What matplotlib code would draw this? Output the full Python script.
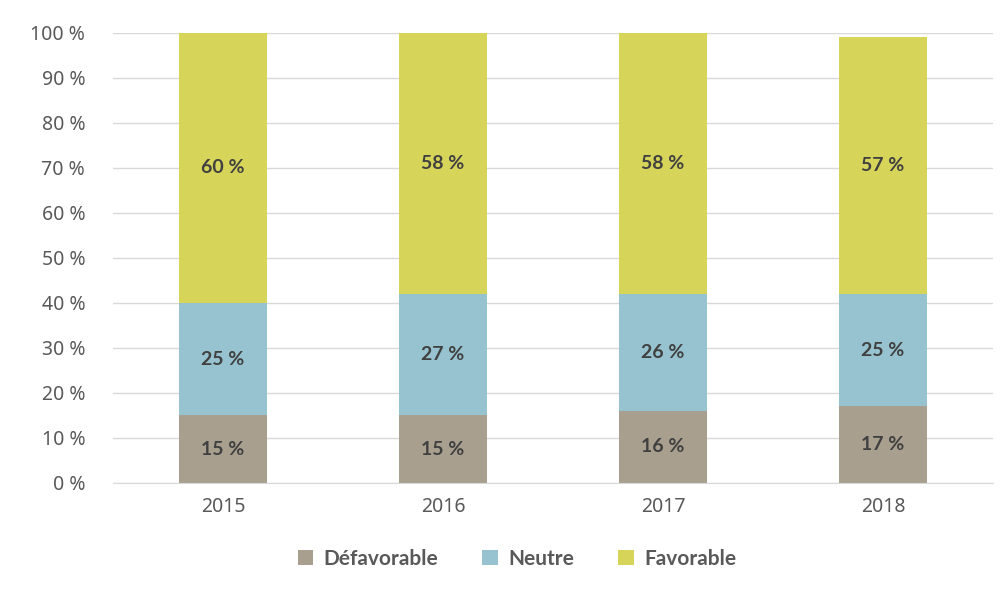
import matplotlib
matplotlib.use("Agg")
import matplotlib.pyplot as plt
import numpy as np

plt.rcParams['font.family'] = ['Noto Sans', 'DejaVu Sans']
BOLD = ['Lato', 'DejaVu Sans']

years = ["2015", "2016", "2017", "2018"]
defavorable = [15, 15, 16, 17]
neutre = [25, 27, 26, 25]
favorable = [60, 58, 58, 57]

series = [("Défavorable", defavorable, "#A89F8E"),
          ("Neutre", neutre, "#96C3CF"),
          ("Favorable", favorable, "#D7D45A")]

fig = plt.figure(figsize=(10, 5.89), dpi=100)
ax = fig.add_axes([0.113, 0.18, 0.88, 0.764])

x = np.arange(len(years))
bottom = np.zeros(len(years))
for name, vals, color in series:
    vals = np.array(vals, dtype=float)
    ax.bar(x, vals, 0.4, bottom=bottom, color=color, label=name, zorder=2)
    for xi, b, v in zip(x, bottom, vals):
        ax.text(xi, b + v / 2, f"{int(v)} %", ha="center", va="center",
                fontsize=14, fontweight="bold", family=BOLD,
                color="#404040", zorder=3)
    bottom += vals

ax.set_xlim(-0.5, 3.5)
ax.set_ylim(0, 100)
ax.set_yticks(range(0, 101, 10))
ax.set_yticklabels([f"{v} %" for v in range(0, 101, 10)])
ax.set_xticks(x)
ax.set_xticklabels(years)
ax.tick_params(axis="both", length=0, labelsize=14, labelcolor="#595959")
ax.tick_params(axis="y", pad=20)
ax.tick_params(axis="x", pad=10)
ax.grid(axis="y", color="#D9D9D9", linewidth=1, zorder=0)
for s in ["top", "right", "left"]:
    ax.spines[s].set_visible(False)
ax.spines["bottom"].set_color("#D9D9D9")

leg = ax.legend(loc="upper center", bbox_to_anchor=(0.459, -0.105), ncol=3,
                frameon=False, handlelength=0.75, handleheight=0.75,
                columnspacing=2.1, handletextpad=0.5,
                prop={"size": 15, "weight": "bold", "family": BOLD})
for t in leg.get_texts():
    t.set_color("#595959")

fig.savefig("out.png", dpi=100)
